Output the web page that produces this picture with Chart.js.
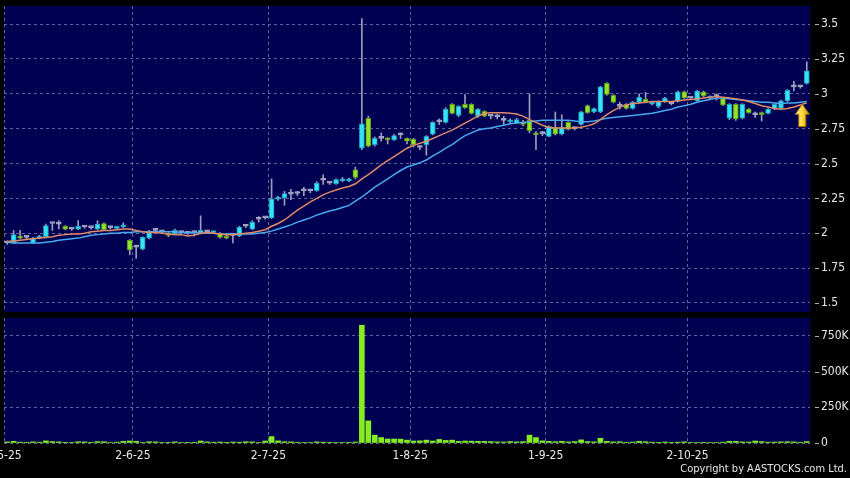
<!DOCTYPE html>
<html>
<head>
<meta charset="utf-8">
<script src="https://cdn.jsdelivr.net/npm/chart.js@4.4.1/dist/chart.umd.min.js"></script>
<style>
body { margin: 0; background: #000; width: 850px; height: 478px; overflow: hidden; position: relative; }
#price { position: absolute; left: 0; top: 0; width: 850px; height: 318px; }
#vol { position: absolute; left: 0; top: 318px; width: 850px; height: 160px; }
#copy { position: absolute; right: 3px; top: 462px; color: #e6e6e6; font: 11px "DejaVu Sans Condensed", "Liberation Sans Narrow", "DejaVu Sans", sans-serif; }
</style>
</head>
<body>
<canvas id="price" width="850" height="318"></canvas>
<canvas id="vol" width="850" height="160"></canvas>
<div id="copy">Copyright by AASTOCKS.com Ltd.</div>
<script>
// daily candles
var open = [1.93,1.93,1.98,1.97,1.93,1.965,1.975,2.07,2.065,2.05,2.03,2.03,2.045,2.04,2.03,2.07,2.04,2.035,2.045,1.95,
  1.90,1.885,1.965,2.02,2.01,2.0,1.995,2.005,2.0,2.005,2.0,2.01,2.005,2.0,1.98,1.985,1.98,2.05,2.03,2.10,
  2.11,2.11,2.245,2.255,2.28,2.285,2.305,2.305,2.305,2.38,2.36,2.355,2.375,2.375,2.455,2.61,2.825,2.635,2.68,2.68,
  2.67,2.705,2.68,2.675,2.615,2.635,2.71,2.80,2.795,2.925,2.845,2.925,2.925,2.84,2.875,2.84,2.835,2.81,2.80,2.79,
  2.80,2.81,2.72,2.715,2.695,2.76,2.71,2.795,2.75,2.78,2.915,2.87,2.87,3.075,2.99,2.91,2.925,2.895,2.94,2.96,
  2.925,2.91,2.945,2.93,2.945,3.015,2.97,2.95,3.015,2.97,2.98,2.97,2.825,2.925,2.825,2.89,2.85,2.865,2.86,2.89,
  2.895,2.95,3.05,3.05,3.075];
var high = [1.945,2.02,2.02,1.98,1.97,1.985,2.065,2.075,2.09,2.055,2.04,2.09,2.05,2.045,2.09,2.075,2.045,2.05,2.075,1.955,
  1.915,1.975,2.02,2.03,2.02,2.005,2.03,2.015,2.01,2.015,2.125,2.02,2.015,2.005,1.985,1.995,2.05,2.06,2.09,2.12,
  2.12,2.39,2.265,2.30,2.315,2.30,2.33,2.315,2.37,2.42,2.37,2.39,2.40,2.395,2.475,3.54,2.84,2.69,2.72,2.685,
  2.71,2.72,2.685,2.68,2.63,2.70,2.80,2.82,2.90,2.93,2.915,2.995,2.93,2.895,2.88,2.85,2.855,2.84,2.82,2.825,
  2.81,3.0,2.73,2.73,2.77,2.87,2.85,2.80,2.76,2.875,2.92,2.90,3.055,3.08,2.995,2.94,2.93,2.945,3.0,3.01,
  2.945,2.95,2.975,2.945,3.02,3.02,2.98,3.025,3.02,2.985,3.0,2.975,2.93,2.93,2.93,2.895,2.87,2.87,2.895,2.93,
  2.955,3.03,3.09,3.06,3.23];
var low = [1.92,1.925,1.96,1.955,1.925,1.96,1.97,2.02,2.03,2.025,2.02,2.025,2.035,2.03,2.025,2.02,2.03,2.03,2.04,1.845,
  1.82,1.88,1.96,2.005,2.0,1.975,1.99,1.995,1.99,1.98,1.995,2.0,2.0,1.965,1.96,1.93,1.975,2.04,2.025,2.08,
  2.10,2.105,2.235,2.2,2.24,2.27,2.27,2.29,2.30,2.35,2.35,2.35,2.37,2.37,2.39,2.60,2.62,2.625,2.66,2.64,
  2.665,2.68,2.64,2.62,2.60,2.56,2.705,2.78,2.79,2.855,2.835,2.895,2.855,2.83,2.835,2.82,2.82,2.78,2.79,2.785,
  2.77,2.72,2.60,2.70,2.69,2.705,2.705,2.74,2.74,2.775,2.86,2.865,2.865,2.99,2.935,2.89,2.89,2.89,2.935,2.935,
  2.92,2.90,2.94,2.92,2.94,2.965,2.96,2.945,2.98,2.965,2.955,2.915,2.815,2.81,2.82,2.86,2.83,2.805,2.855,2.885,
  2.89,2.945,3.02,3.04,3.07];
var close = [1.93,1.99,1.965,1.97,1.965,1.975,2.055,2.07,2.065,2.03,2.03,2.05,2.045,2.04,2.065,2.025,2.04,2.045,2.06,1.88,
  1.90,1.97,2.01,2.02,2.01,1.985,2.02,2.005,2.0,2.005,2.02,2.01,2.01,1.97,1.965,1.985,2.045,2.05,2.08,2.10,
  2.11,2.245,2.255,2.285,2.28,2.285,2.305,2.305,2.36,2.38,2.36,2.385,2.39,2.39,2.40,2.785,2.625,2.68,2.68,2.67,
  2.70,2.705,2.66,2.635,2.615,2.695,2.795,2.80,2.89,2.86,2.91,2.90,2.86,2.89,2.84,2.84,2.835,2.81,2.805,2.815,
  2.78,2.735,2.705,2.715,2.765,2.71,2.76,2.745,2.75,2.87,2.865,2.895,3.05,2.995,2.94,2.91,2.895,2.94,2.975,2.94,
  2.94,2.945,2.97,2.93,3.015,2.97,2.97,3.02,2.985,2.98,2.98,2.92,2.925,2.82,2.925,2.865,2.85,2.85,2.89,2.925,
  2.95,3.025,3.05,3.05,3.165];
var volume = [8000,12000,6000,5000,8000,6000,15000,10000,8000,5000,4000,9000,8000,5000,10000,9000,4000,6000,12000,14000,
  12000,4000,9000,8000,3000,2000,8000,4000,2000,5000,14000,8000,6000,7000,5000,7000,6000,9000,8000,4000,
  14000,45000,15000,9000,8000,5000,4000,3000,8000,6000,5000,4000,3000,5000,7000,825000,155000,55000,38000,28000,
  28000,27000,20000,14000,15000,20000,14000,25000,18000,20000,12000,14000,13000,12000,12000,10000,8000,7000,10000,8000,
  10000,55000,38000,15000,12000,9000,12000,8000,10000,22000,10000,8000,33000,12000,8000,9000,5000,7000,12000,9000,
  6000,5000,7000,5000,6000,8000,4000,3000,5000,3000,4000,6000,12000,11000,8000,7000,14000,10000,6000,7000,
  8000,9000,8000,5000,10000];
// moving averages as drawn (orange = short, blue = long)
var maShort = [1.94,1.945,1.95,1.955,1.96,1.965,1.97,1.975,1.985,1.99,1.995,1.995,2.0,2.01,2.015,2.02,2.02,2.025,2.03,2.03,
  2.02,2.01,2.005,2.005,2.0,1.995,1.99,1.99,1.98,1.985,2.0,2.005,2.0,1.995,1.99,1.99,1.995,2.0,2.005,2.015,
  2.025,2.05,2.07,2.095,2.13,2.165,2.195,2.225,2.25,2.275,2.295,2.31,2.325,2.335,2.355,2.39,2.42,2.455,2.49,2.52,
  2.55,2.58,2.61,2.63,2.645,2.66,2.68,2.70,2.72,2.74,2.765,2.79,2.815,2.84,2.86,2.865,2.865,2.865,2.86,2.855,
  2.84,2.815,2.795,2.775,2.76,2.755,2.755,2.755,2.755,2.76,2.77,2.785,2.815,2.85,2.88,2.905,2.92,2.93,2.935,2.94,
  2.945,2.945,2.945,2.945,2.95,2.955,2.96,2.965,2.97,2.975,2.98,2.975,2.97,2.965,2.955,2.945,2.93,2.915,2.905,2.895,
  2.89,2.895,2.905,2.92,2.935];
var maLong = [1.935,1.93,1.93,1.93,1.93,1.93,1.935,1.94,1.95,1.955,1.96,1.965,1.975,1.985,1.99,1.995,2.0,2.0,2.005,2.005,
  2.01,2.01,2.01,2.01,2.01,2.01,2.01,2.005,2.005,2.005,2.0,2.0,2.0,1.995,1.995,1.995,1.995,1.995,1.995,2.0,
  2.005,2.015,2.03,2.045,2.06,2.08,2.095,2.11,2.13,2.145,2.16,2.17,2.185,2.20,2.23,2.26,2.295,2.33,2.36,2.39,
  2.42,2.45,2.475,2.49,2.505,2.525,2.555,2.58,2.61,2.635,2.67,2.70,2.72,2.74,2.75,2.755,2.765,2.775,2.785,2.79,
  2.795,2.80,2.805,2.81,2.81,2.81,2.81,2.81,2.805,2.80,2.80,2.805,2.815,2.825,2.83,2.835,2.84,2.845,2.85,2.855,
  2.86,2.87,2.88,2.89,2.905,2.915,2.925,2.94,2.95,2.96,2.97,2.97,2.965,2.96,2.955,2.95,2.945,2.94,2.94,2.935,
  2.93,2.935,2.935,2.94,2.945];
var dateTicks = [-0.5, 19.5, 40.5, 62.5, 83.5, 105.5];
var dateLabels = ['2-5-25', '2-6-25', '2-7-25', '1-8-25', '1-9-25', '2-10-25'];
var priceTicks = [1.5, 1.75, 2, 2.25, 2.5, 2.75, 3, 3.25, 3.5];
var volTicks = [0, 250000, 500000, 750000];
var volTickLabels = ['0', '250K', '500K', '750K'];
var arrowAt = 123.3, arrowTip = 2.925, arrowBase = 2.765;

var UP = '#35e3f2', DOWN = '#8fe32a', FLAT = '#a6a6c4';
var gridCol = 'rgba(140,140,185,0.7)';
var axisFont = { family: '"DejaVu Sans Condensed", "DejaVu Sans"', size: 12 };

function candleColor(i) {
  if (close[i] > open[i]) return UP;
  if (close[i] < open[i]) return DOWN;
  return FLAT;
}
function candleBorder(i) {
  if (close[i] > open[i]) return '#1a9fc0';
  if (close[i] < open[i]) return '#5d9a14';
  return FLAT;
}

var idx = open.map(function (v, i) { return i; });

function noPad(s) {
  s.paddingTop = 0; s.paddingBottom = 0; s.paddingLeft = 0; s.paddingRight = 0;
}

var bgPlugin = {
  id: 'bg',
  beforeDraw: function (chart) {
    var ctx = chart.ctx, a = chart.chartArea;
    ctx.save();
    ctx.fillStyle = '#000';
    ctx.fillRect(0, 0, chart.width, chart.height);
    ctx.fillStyle = '#000052';
    ctx.fillRect(a.left, a.top, a.right - a.left, a.bottom - a.top);
    ctx.restore();
  },
  afterDraw: function (chart) {
    // little dash before each y label
    var ctx = chart.ctx, y = chart.scales.y, r = chart.chartArea.right;
    ctx.save();
    ctx.strokeStyle = '#b0b0b0';
    ctx.lineWidth = 1;
    y.ticks.forEach(function (t) {
      var py = Math.round(y.getPixelForValue(t.value)) + 0.5;
      ctx.beginPath();
      ctx.moveTo(r + 5, py);
      ctx.lineTo(r + 9, py);
      ctx.stroke();
    });
    ctx.restore();
  }
};

var arrowPlugin = {
  id: 'arrow',
  afterDatasetsDraw: function (chart) {
    var ctx = chart.ctx, xs = chart.scales.x, ys = chart.scales.y;
    var cx = xs.getPixelForValue(arrowAt);
    var tip = ys.getPixelForValue(arrowTip), base = ys.getPixelForValue(arrowBase);
    var headH = (base - tip) * 0.45;
    ctx.save();
    var g = ctx.createLinearGradient(cx - 7, 0, cx + 7, 0);
    g.addColorStop(0, '#fff1a0');
    g.addColorStop(0.5, '#ffd83a');
    g.addColorStop(1, '#d89a00');
    ctx.fillStyle = g;
    ctx.strokeStyle = '#a87400';
    ctx.lineWidth = 1;
    ctx.beginPath();
    ctx.moveTo(cx, tip);
    ctx.lineTo(cx + 7, tip + headH);
    ctx.lineTo(cx + 3.5, tip + headH);
    ctx.lineTo(cx + 3.5, base);
    ctx.lineTo(cx - 3.5, base);
    ctx.lineTo(cx - 3.5, tip + headH);
    ctx.lineTo(cx - 7, tip + headH);
    ctx.closePath();
    ctx.fill();
    ctx.stroke();
    ctx.restore();
  }
};

var xCommon = {
  type: 'linear',
  min: -0.5,
  max: 124.5,
  offset: false,
  afterBuildTicks: function (s) { s.ticks = dateTicks.map(function (v) { return { value: v }; }); },
  grid: { color: gridCol, drawTicks: false, lineWidth: 1, offset: false },
  border: { display: false, dash: [3, 3] }
};

var priceChart = new Chart(document.getElementById('price'), {
  type: 'bar',
  data: {
    datasets: [
      {
        type: 'line', label: 'MA short', order: 1,
        data: idx.map(function (i) { return { x: i, y: maShort[i] }; }),
        borderColor: '#e08a66', borderWidth: 1.5, pointRadius: 0, tension: 0
      },
      {
        type: 'line', label: 'MA long', order: 2,
        data: idx.map(function (i) { return { x: i, y: maLong[i] }; }),
        borderColor: '#49a9ee', borderWidth: 1.5, pointRadius: 0, tension: 0
      },
      {
        label: 'wick', order: 4, grouped: false,
        data: idx.map(function (i) { return { x: i, y: [low[i], high[i]] }; }),
        backgroundColor: '#9c9cbc', barThickness: 1
      },
      {
        label: 'body', order: 3, grouped: false,
        data: idx.map(function (i) { return { x: i, y: [open[i], close[i]] }; }),
        backgroundColor: idx.map(candleColor),
        borderColor: idx.map(candleBorder),
        borderWidth: 1, borderSkipped: false,
        barThickness: 5, minBarLength: 2
      }
    ]
  },
  options: {
    responsive: false,
    animation: false,
    layout: { padding: { top: 6, bottom: 6, left: 4, right: 0 } },
    plugins: { legend: { display: false }, tooltip: { enabled: false } },
    scales: {
      x: Object.assign({}, xCommon, {
        ticks: { display: false },
        afterFit: function (s) { s.height = 0; noPad(s); }
      }),
      y: {
        position: 'right',
        min: 1.435,
        max: 3.63,
        afterBuildTicks: function (s) { s.ticks = priceTicks.map(function (v) { return { value: v }; }); },
        afterFit: function (s) { s.width = 40; noPad(s); },
        ticks: { color: '#e6e6e6', padding: 11, font: axisFont,
          callback: function (v) { return String(v); } },
        grid: { color: gridCol, drawTicks: false },
        border: { display: false, dash: [3, 3] }
      }
    }
  },
  plugins: [bgPlugin, arrowPlugin]
});

var volChart = new Chart(document.getElementById('vol'), {
  type: 'bar',
  data: {
    datasets: [{
      label: 'volume',
      data: idx.map(function (i) { return { x: i, y: volume[i] }; }),
      backgroundColor: '#86ee1e',
      barThickness: 5
    }]
  },
  options: {
    responsive: false,
    animation: false,
    layout: { padding: { top: 0, bottom: 0, left: 4, right: 0 } },
    plugins: { legend: { display: false }, tooltip: { enabled: false } },
    scales: {
      x: Object.assign({}, xCommon, {
        ticks: { color: '#e6e6e6', padding: 6, maxRotation: 0, autoSkip: false,
          font: axisFont,
          callback: function (v, i) { return dateLabels[i]; } },
        afterFit: function (s) { s.height = 35; noPad(s); }
      }),
      y: {
        position: 'right',
        min: 0,
        max: 876000,
        afterBuildTicks: function (s) { s.ticks = volTicks.map(function (v) { return { value: v }; }); },
        afterFit: function (s) { s.width = 40; noPad(s); },
        ticks: { color: '#e6e6e6', padding: 11, font: axisFont,
          callback: function (v, i) { return volTickLabels[i]; } },
        grid: { color: gridCol, drawTicks: false },
        border: { display: false, dash: [3, 3] }
      }
    }
  },
  plugins: [bgPlugin]
});
</script>
</body>
</html>
